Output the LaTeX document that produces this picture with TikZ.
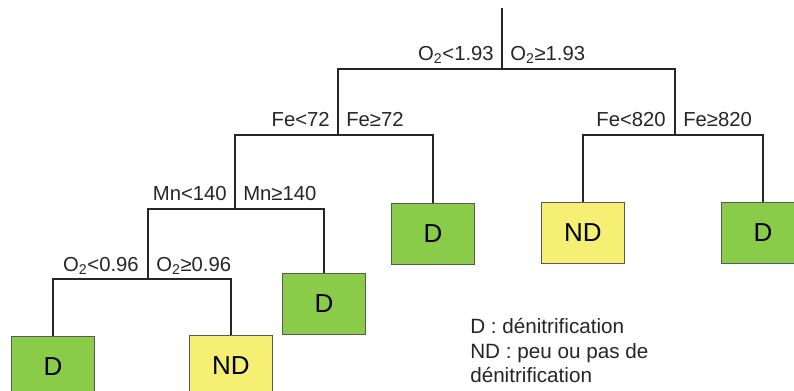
\documentclass[tikz,border=0pt]{standalone}
\usepackage{fontspec}
\setmainfont{Liberation Sans}
\usepackage{tikz}
\usepackage{xcolor}
\usetikzlibrary{positioning}
\definecolor{leafgreen}{RGB}{138,204,74}
\definecolor{leafyellow}{RGB}{245,239,116}

\begin{document}
\begin{tikzpicture}[x=0.75pt,y=-0.75pt,
  branch/.style={line width=1.3pt,black!85},
  cond/.style={inner sep=0pt,font=\fontsize{15.2}{17}\selectfont,text=black!85},
  leaf/.style={draw=black!65,line width=0.8pt,minimum width=62.25pt,minimum height=45.75pt,inner sep=0pt,anchor=north,font=\fontsize{19.5}{22}\selectfont},
  dleaf/.style={leaf,fill=leafgreen},
  ndleaf/.style={leaf,fill=leafyellow}]
  \useasboundingbox (0,0) rectangle (794,390);
  \fill[white] (0,0) rectangle (794,390);
  % split points
  \coordinate (top) at (502,8);
  \coordinate (o2a) at (502,69);
  \coordinate (fe1) at (338,135);
  \coordinate (fe2) at (675,135);
  \coordinate (mn) at (235,209);
  \coordinate (o2b) at (148,279);
  % leaves
  \node[dleaf] (d1) at (53,336) {D};
  \node[ndleaf] (nd1) at (231,335) {ND};
  \node[dleaf] (d2) at (324,273) {D};
  \node[dleaf] (d3) at (433,203) {D};
  \node[ndleaf] (nd2) at (583,202) {ND};
  \node[dleaf] (d4) at (763,202) {D};
  % tree
  \draw[branch] (top) -- (o2a);
  \draw[branch] (o2a) -| (fe1);
  \draw[branch] (o2a) -| (fe2);
  \draw[branch] (fe1) -| (mn);
  \draw[branch] (fe1) -| (d3.north);
  \draw[branch] (fe2) -| (nd2.north);
  \draw[branch] (fe2) -| (d4.north);
  \draw[branch] (mn) -| (o2b);
  \draw[branch] (mn) -| (d2.north);
  \draw[branch] (o2b) -| (d1.north);
  \draw[branch] (o2b) -| (nd1.north);
  % split conditions
  \node[cond,anchor=base east] (o2alo) at (494,60) {O\textsubscript{2}<1.93};
  \node[cond,anchor=base west] (o2ahi) at (510,60) {O\textsubscript{2}≥1.93};
  \node[cond,anchor=base east] (fe1lo) at (330,126) {Fe<72};
  \node[cond,anchor=base west] (fe1hi) at (346,126) {Fe≥72};
  \node[cond,anchor=base east] (fe2lo) at (666,126) {Fe<820};
  \node[cond,anchor=base west] (fe2hi) at (683,126) {Fe≥820};
  \node[cond,anchor=base east] (mnlo) at (227,200) {Mn<140};
  \node[cond,anchor=base west] (mnhi) at (243,200) {Mn≥140};
  \node[cond,anchor=base east] (o2blo) at (139,271) {O\textsubscript{2}<0.96};
  \node[cond,anchor=base west] (o2bhi) at (156,271) {O\textsubscript{2}≥0.96};
  % legend
  \node[cond,anchor=north west,align=left,font=\fontsize{15.5}{18.4}\selectfont] (legend) at (470,318)
    {D : dénitrification\\ND : peu ou pas de\\dénitrification};
\end{tikzpicture}
\end{document}
